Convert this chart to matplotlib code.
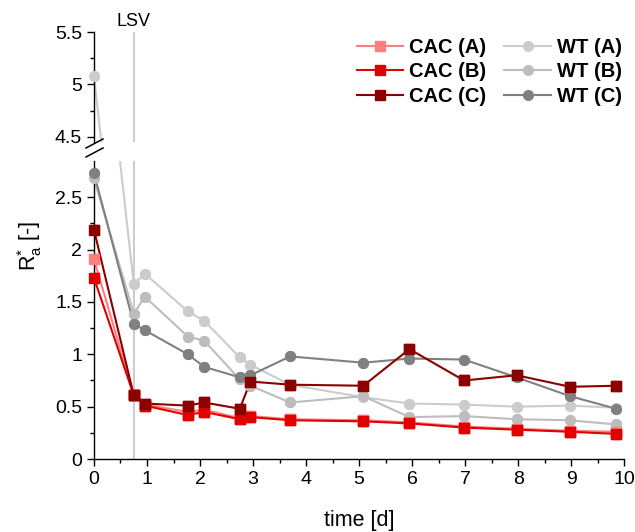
import numpy as np
import matplotlib
matplotlib.use("Agg")
import matplotlib.pyplot as plt
from matplotlib.lines import Line2D
from matplotlib.ticker import MultipleLocator, FuncFormatter

plt.rcParams.update({'font.family': 'Liberation Sans', 'mathtext.fontset': 'custom',
                     'mathtext.rm': 'Liberation Sans', 'mathtext.it': 'Liberation Sans:italic',
                     'axes.linewidth': 1.0})

# time points [d]
t = [0, 0.75, 0.96, 1.77, 2.08, 2.75, 2.95, 3.70, 5.08, 5.95, 6.98, 7.97, 8.98, 9.85]
cac_a = [1.91, 0.61, 0.52, 0.45, 0.47, 0.39, 0.41, 0.38, 0.37, 0.35, 0.31, 0.29, 0.27, 0.26]
cac_b = [1.73, 0.61, 0.51, 0.42, 0.45, 0.38, 0.40, 0.37, 0.36, 0.34, 0.30, 0.28, 0.26, 0.24]
cac_c = [2.19, 0.61, 0.53, 0.51, 0.54, 0.48, 0.74, 0.71, 0.70, 1.05, 0.75, 0.80, 0.69, 0.70]
wt_a = [5.08, 1.67, 1.77, 1.41, 1.32, 0.97, 0.90, 0.71, 0.59, 0.53, 0.52, 0.50, 0.51, 0.49]
wt_b = [2.68, 1.39, 1.55, 1.17, 1.13, 0.76, 0.70, 0.54, 0.60, 0.40, 0.41, 0.38, 0.37, 0.33]
wt_c = [2.73, 1.29, 1.23, 1.00, 0.88, 0.78, 0.80, 0.98, 0.92, 0.96, 0.95, 0.78, 0.60, 0.48]
lsv = 0.75

series = [  # label, values, colour, marker
    ('WT (A)', wt_a, '#cccccc', 'o'),
    ('WT (B)', wt_b, '#bdbdbd', 'o'),
    ('WT (C)', wt_c, '#808080', 'o'),
    ('CAC (A)', cac_a, '#ff7f7f', 's'),
    ('CAC (B)', cac_b, '#e00000', 's'),
    ('CAC (C)', cac_c, '#8b0000', 's'),
]
LO, HI = (0, 2.85), (4.45, 5.5)

fig = plt.figure(figsize=(6.35, 5.32), dpi=100)
ax_hi = fig.add_axes([0.148, 0.7333, 0.835, 0.206])
ax_lo = fig.add_axes([0.148, 0.1372, 0.835, 0.5608])

handles = {}
for ax, ylim in [(ax_lo, LO), (ax_hi, HI)]:
    ax.axvline(lsv, color='#c8c8c8', lw=1.3, zorder=1)
    for lbl, y, c, m in series:
        y = np.array(y); tt = np.array(t)
        ms = 6.5 if m == 's' else 7
        h, = ax.plot(tt, y, color=c, lw=1.5, marker=m, ms=ms, zorder=2)
        inside = (y >= ylim[0]) & (y <= ylim[1])
        ax.plot(tt[inside], y[inside], ls='none', marker=m, ms=ms, color=c,
                clip_on=False, zorder=3)
        handles[lbl] = h
    ax.set_xlim(0, 10); ax.set_ylim(*ylim)
    ax.spines[['top', 'right']].set_visible(False)
    ax.yaxis.set_major_locator(MultipleLocator(0.5))
    ax.yaxis.set_minor_locator(MultipleLocator(0.25))
    ax.yaxis.set_major_formatter(FuncFormatter(lambda v, p: f'{v:g}'))
    ax.tick_params(which='major', length=5, width=1, labelsize=14, direction='out')
    ax.tick_params(which='minor', length=3, width=1, direction='out')

ax_hi.spines['bottom'].set_visible(False)
ax_hi.tick_params(axis='x', which='both', bottom=False, labelbottom=False)
ax_lo.xaxis.set_major_locator(MultipleLocator(1))
ax_lo.xaxis.set_minor_locator(MultipleLocator(0.5))
ax_lo.set_xlabel('time [d]', fontsize=15.5, labelpad=16)

# axis break marks
for y0 in (139, 148):
    fig.add_artist(Line2D([86 / 635, 103 / 635], [1 - (y0 + 9) / 532, 1 - y0 / 532],
                          transform=fig.transFigure, color='black', lw=1.1))

fig.text(0.047, 0.537, r'R$^{*}_{\mathrm{a}}$ [-]', rotation=90, ha='center', va='center',
         fontsize=15.5)
ax_hi.text(lsv, 1.02, 'LSV', transform=ax_hi.get_xaxis_transform(), ha='center',
           va='bottom', fontsize=13)

order = ['CAC (A)', 'CAC (B)', 'CAC (C)', 'WT (A)', 'WT (B)', 'WT (C)']
fig.legend([handles[k] for k in order], order, ncol=2, loc='upper right',
           bbox_to_anchor=(0.995, 0.948), frameon=False, borderpad=0,
           prop={'weight': 'bold', 'size': 14.5}, handlelength=2.3, handletextpad=0.3,
           columnspacing=0.9, labelspacing=0.28)

fig.savefig('out.png', dpi=100, facecolor='white')
